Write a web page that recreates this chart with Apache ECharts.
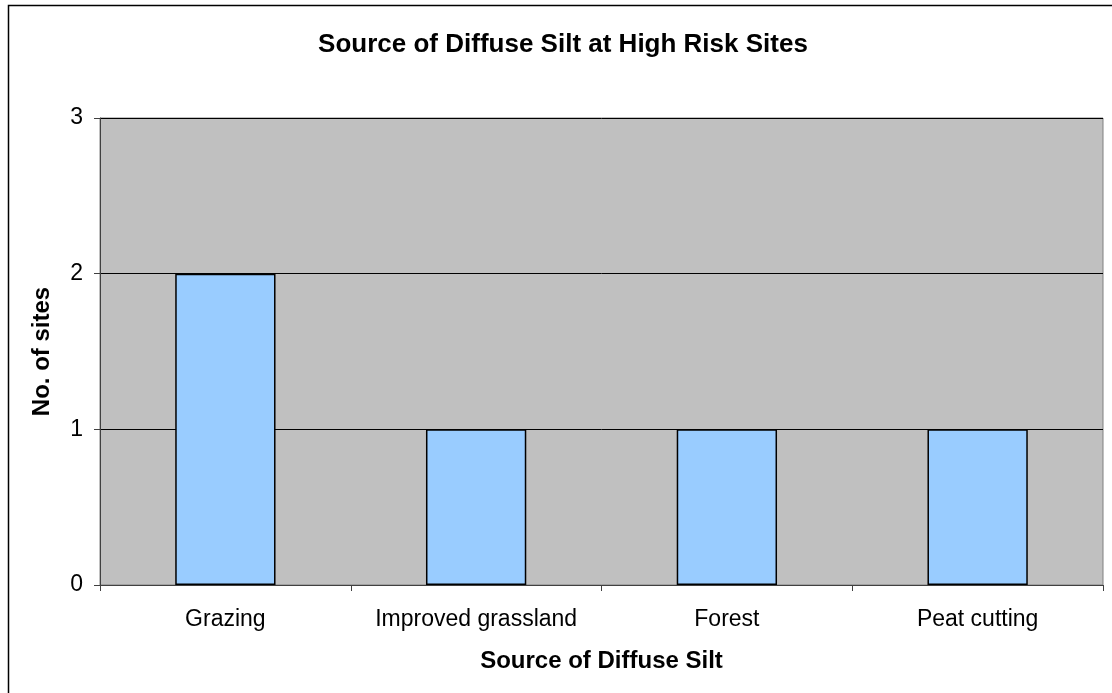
<!DOCTYPE html>
<html><head><meta charset="utf-8">
<script src="https://cdn.jsdelivr.net/npm/echarts@6/dist/echarts.min.js"></script>
<style>html,body{margin:0;padding:0;background:#fff}#c{width:1112px;height:693px}</style>
</head><body><div id="c"></div>
<script>
const categories = ["Grazing", "Improved grassland", "Forest", "Peat cutting"];
const siteCounts = [2, 1, 1, 1];
const yTicks = [0, 1, 2, 3];

const chart = echarts.init(document.getElementById('c'), null, {renderer: 'canvas'});
const font = '"Liberation Sans", Arial, sans-serif';
chart.setOption({
  animation: false,
  backgroundColor: '#fff',
  title: {
    text: 'Source of Diffuse Silt at High Risk Sites',
    left: 558, top: 27, textAlign: 'center',
    textStyle: {fontFamily: font, fontSize: 26, fontWeight: 'bold', color: '#000'}
  },
  graphic: [{
    type: 'rect', shape: {x: 8.5, y: 5.5, width: 1110, height: 700},
    style: {fill: 'none', stroke: '#000', lineWidth: 1.5}, silent: true
  }],
  grid: {left: 100, right: 9, top: 118, bottom: 108, show: true,
    backgroundColor: '#C0C0C0', borderColor: '#808080', borderWidth: 1},
  xAxis: {
    type: 'category', data: categories,
    name: 'Source of Diffuse Silt', nameLocation: 'middle', nameGap: 64,
    nameTextStyle: {fontFamily: font, fontSize: 24, fontWeight: 'bold', color: '#000'},
    axisLine: {lineStyle: {color: '#404040', width: 1}},
    axisTick: {show: true, interval: 0, alignWithLabel: false, length: 6, lineStyle: {color: '#404040'}},
    axisLabel: {interval: 0, fontFamily: font, fontSize: 23, color: '#000', margin: 23}
  },
  yAxis: {
    type: 'value', min: 0, max: 3, interval: 1,
    name: 'No. of sites', nameLocation: 'middle', nameGap: 46,
    nameTextStyle: {fontFamily: font, fontSize: 24, fontWeight: 'bold', color: '#000'},
    axisLine: {show: true, lineStyle: {color: '#404040', width: 1}},
    axisTick: {show: true, length: 6, lineStyle: {color: '#404040'}},
    axisLabel: {fontFamily: font, fontSize: 23, color: '#000', margin: 17,
      formatter: v => yTicks.includes(v) ? String(v) : ''},
    splitLine: {show: true, lineStyle: {color: '#000', width: 1}}
  },
  series: [{
    type: 'bar', data: siteCounts, barCategoryGap: '60%',
    itemStyle: {color: '#99CCFF', borderColor: '#000', borderWidth: 1.5}
  }]
});
</script></body></html>
